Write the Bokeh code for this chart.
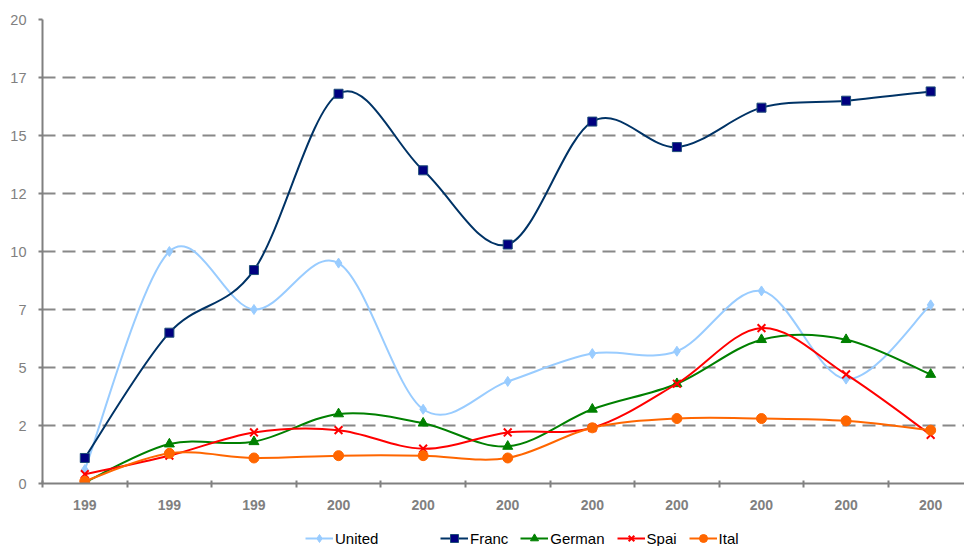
import numpy as np
from bokeh.plotting import figure
from bokeh.layouts import column
from bokeh.models import FixedTicker, Legend, LegendItem, ColumnDataSource
from bokeh.embed import file_html
from bokeh.resources import INLINE

# ---- data ----
years = ["199", "199", "199", "200", "200", "200", "200", "200", "200", "200", "200"]
united = [0.6, 10.0, 7.5, 9.5, 3.2, 4.4, 5.6, 5.7, 8.3, 4.5, 7.7]
france = [1.1, 6.5, 9.2, 16.8, 13.5, 10.3, 15.6, 14.5, 16.2, 16.5, 16.9]
germany = [0.05, 1.7, 1.8, 3.0, 2.6, 1.6, 3.2, 4.3, 6.2, 6.2, 4.7]
spain = [0.4, 1.2, 2.2, 2.3, 1.5, 2.2, 2.4, 4.3, 6.7, 4.7, 2.1]
italy = [0.1, 1.3, 1.1, 1.2, 1.2, 1.1, 2.4, 2.8, 2.8, 2.7, 2.3]
series_names = ["United", "Franc", "German", "Spai", "Ital"]
ytick_values = [0, 2.5, 5, 7.5, 10, 12.5, 15, 17.5, 20]
ytick_labels = ["0", "2", "5", "7", "10", "12", "15", "17", "20"]

FONT = "Liberation Sans"
GRAY = "#808080"

xs = list(range(len(years)))

p = figure(frame_width=922, frame_height=464,
           x_range=(-0.5, 10.4), y_range=(0, 20),
           output_backend="svg", toolbar_location=None,
           min_border_left=42, min_border_top=19, min_border_right=0,
           min_border_bottom=37)
p.outline_line_color = None
p.background_fill_color = "white"
p.border_fill_color = "white"

# grid
p.xgrid.visible = False
p.ygrid.ticker = FixedTicker(ticks=ytick_values)
p.ygrid.grid_line_color = "#888888"
p.ygrid.grid_line_width = 2
p.ygrid.grid_line_dash = "13 7"

# y axis
p.yaxis.ticker = FixedTicker(ticks=ytick_values)
p.yaxis.major_label_overrides = {v: l for v, l in zip(ytick_values, ytick_labels)}
p.yaxis.axis_line_color = GRAY
p.yaxis.axis_line_width = 2
p.yaxis.major_tick_line_color = GRAY
p.yaxis.major_tick_line_width = 2
p.yaxis.major_tick_in = 0
p.yaxis.major_tick_out = 4
p.yaxis.minor_tick_line_color = None
p.yaxis.major_label_text_font = FONT
p.yaxis.major_label_text_font_size = "14.5px"
p.yaxis.major_label_text_color = GRAY
p.yaxis.major_label_standoff = 12

# x axis
p.xaxis.ticker = FixedTicker(ticks=xs, minor_ticks=[k - 0.5 for k in range(len(xs) + 1)])
p.xaxis.major_label_overrides = {i: y for i, y in enumerate(years)}
p.xaxis.axis_line_color = GRAY
p.xaxis.axis_line_width = 2
p.xaxis.major_tick_line_color = None
p.xaxis.major_tick_in = 0
p.xaxis.major_tick_out = 0
p.xaxis.minor_tick_line_color = GRAY
p.xaxis.minor_tick_line_width = 2
p.xaxis.minor_tick_in = 3
p.xaxis.minor_tick_out = 4
p.xaxis.major_label_text_font = FONT
p.xaxis.major_label_text_font_size = "14px"
p.xaxis.major_label_text_font_style = "bold"
p.xaxis.major_label_text_color = GRAY
p.xaxis.major_label_standoff = 12


def smooth_source(ys):
    """Bezier segments (Excel-style smoothing) through the data points."""
    n = len(ys)
    P = [(float(x), float(y)) for x, y in zip(xs, ys)]
    d = dict(x0=[], y0=[], x1=[], y1=[], cx0=[], cy0=[], cx1=[], cy1=[])
    for i in range(n - 1):
        pm = P[i - 1] if i > 0 else P[i]
        p0 = P[i]
        p1 = P[i + 1]
        p2 = P[i + 2] if i + 2 < n else P[i + 1]
        d["x0"].append(p0[0]); d["y0"].append(p0[1])
        d["x1"].append(p1[0]); d["y1"].append(p1[1])
        d["cx0"].append(p0[0] + (p1[0] - pm[0]) / 6)
        d["cy0"].append(p0[1] + (p1[1] - pm[1]) / 6)
        d["cx1"].append(p1[0] - (p2[0] - p0[0]) / 6)
        d["cy1"].append(p1[1] - (p2[1] - p0[1]) / 6)
    return ColumnDataSource(d)


styles = [
    dict(vals=united, line="#99CCFF", marker="diamond", fill="#99CCFF", mline="#99CCFF", size=10),
    dict(vals=france, line="#003366", marker="square", fill="#000080", mline="#1F4E79", size=9),
    dict(vals=germany, line="#008000", marker="triangle", fill="#008000", mline="#008000", size=10),
    dict(vals=spain, line="#FF0000", marker="x", fill="#FF0000", mline="#FF0000", size=11),
    dict(vals=italy, line="#FF6600", marker="circle", fill="#FF6600", mline="#FF6600", size=10),
]

for st in styles:
    src = smooth_source(st["vals"])
    p.bezier(x0="x0", y0="y0", x1="x1", y1="y1", cx0="cx0", cy0="cy0",
             cx1="cx1", cy1="cy1", source=src, line_color=st["line"], line_width=2)
    p.scatter(xs, st["vals"], marker=st["marker"], size=st["size"],
              fill_color=st["fill"], line_color=st["mline"],
              line_width=2 if st["marker"] == "x" else 1)

# ---- legend strip (separate small figure below the chart) ----
# its ranges are set away from the data so the series themselves stay hidden there,
# only their legend entries are drawn
lg = figure(width=964, height=26, x_range=(-1001, -1000), y_range=(-1001, -1000),
            output_backend="svg", toolbar_location=None,
            x_axis_type=None, y_axis_type=None,
            min_border_left=0, min_border_right=0, min_border_top=0, min_border_bottom=0)
lg.outline_line_color = None
lg.xgrid.visible = False
lg.ygrid.visible = False
lg.background_fill_color = "white"
lg.border_fill_color = "white"

items = []
for name, st in zip(series_names, styles):
    r_line = lg.line(xs, st["vals"], line_color=st["line"], line_width=2)
    r_pts = lg.scatter(xs, st["vals"], marker=st["marker"], fill_color=st["fill"],
                       line_color=st["mline"], line_width=2 if st["marker"] == "x" else 1)
    items.append(LegendItem(label=name, renderers=[r_line, r_pts]))

legend_kw = dict(orientation="horizontal", border_line_color=None, background_fill_alpha=0,
                 label_text_font=FONT, label_text_font_size="15px", label_text_color="#000000",
                 glyph_width=28, glyph_height=20, spacing=12, padding=0, margin=0,
                 label_standoff=2, label_height=14)
legend1 = Legend(items=items[:1], location=(263, -2), **legend_kw)
legend2 = Legend(items=items[1:], location=(398, -2), **legend_kw)
lg.add_layout(legend1)
lg.add_layout(legend2)

layout = column(p, lg, spacing=0)

open("out.html", "w").write(file_html(layout, INLINE))
